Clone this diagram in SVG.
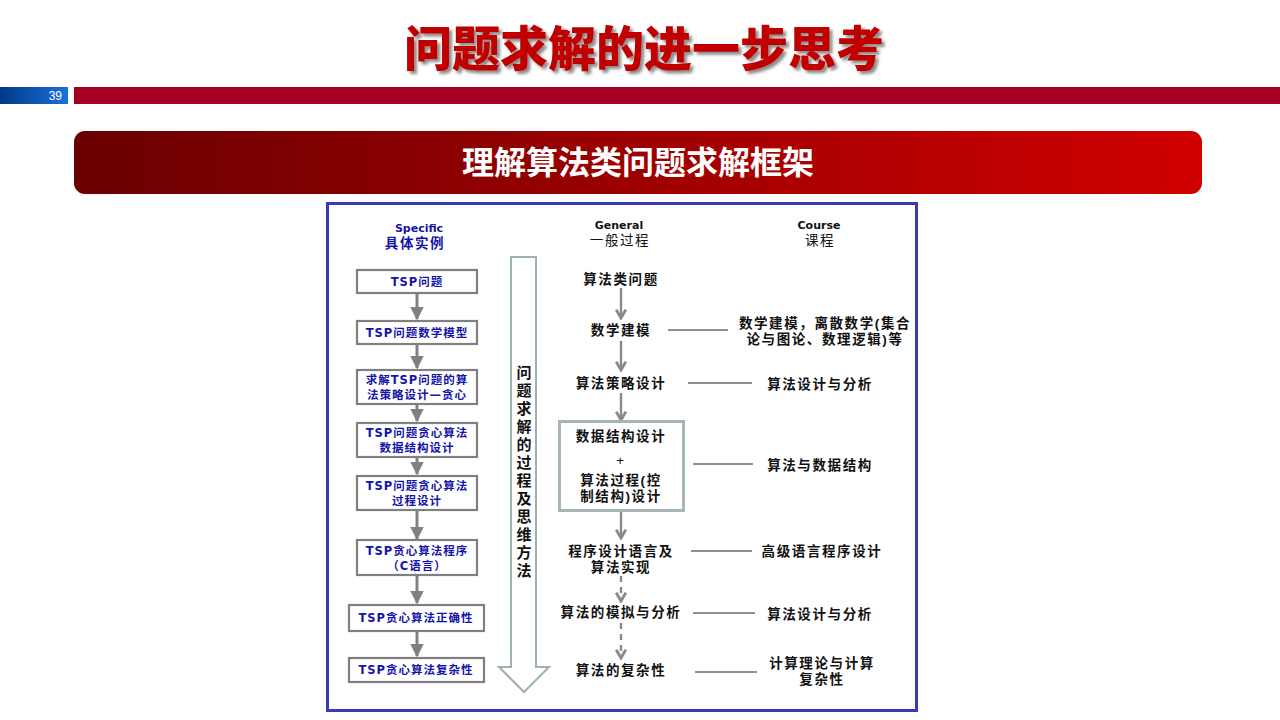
<svg xmlns="http://www.w3.org/2000/svg" width="1280" height="720" viewBox="0 0 1280 720">
<defs>
<linearGradient id="gBlue" x1="0" y1="0" x2="1" y2="0">
<stop offset="0" stop-color="#003a88"/><stop offset="1" stop-color="#1a70dc"/>
</linearGradient>
<linearGradient id="gBanner" x1="0" y1="0" x2="1" y2="0">
<stop offset="0" stop-color="#6a0000"/><stop offset="1" stop-color="#d00000"/>
</linearGradient>
<filter id="shadow" x="-10%" y="-20%" width="120%" height="150%">
<feGaussianBlur in="SourceAlpha" stdDeviation="1.5"/>
<feOffset dx="3" dy="3" result="b"/>
<feFlood flood-color="#000" flood-opacity="0.45"/>
<feComposite in2="b" operator="in"/>
<feMerge><feMergeNode/><feMergeNode in="SourceGraphic"/></feMerge>
</filter>
<marker id="triG" viewBox="0 0 10 10" markerWidth="4.5" markerHeight="4.5" refX="9" refY="5" orient="auto">
<path d="M0,0 L10,5 L0,10 Z" fill="#808080"/>
</marker>
<marker id="chev" viewBox="0 0 10 10" markerWidth="5" markerHeight="5" refX="8" refY="5" orient="auto">
<path d="M1,1 L8,5 L1,9" fill="none" stroke="#8a8a8a" stroke-width="2.4"/>
</marker>
</defs>
<style>
.title{font-family:"Noto Sans CJK SC",sans-serif;font-weight:900;font-size:48px;fill:#c00000}
.banner{font-family:"Noto Sans CJK SC",sans-serif;font-weight:bold;font-size:32px;fill:#fff}
.blue{font-family:"DejaVu Sans","Noto Sans CJK SC",sans-serif;font-weight:bold;fill:#1414a8;text-anchor:middle}
.bx{font-size:11.5px;letter-spacing:1px}
.hd{font-family:"DejaVu Sans","Noto Sans CJK SC",sans-serif;font-weight:bold;font-size:11px;text-anchor:middle}
.hc{font-family:"Liberation Sans","Noto Sans CJK SC",sans-serif;font-size:13.5px;letter-spacing:1.6px;text-anchor:middle}
.cn{font-family:"Liberation Sans","Noto Sans CJK SC",sans-serif;font-weight:bold;font-size:13.5px;letter-spacing:1.6px;fill:#111;text-anchor:middle}
.vt{font-family:"Liberation Sans","Noto Sans CJK SC",sans-serif;font-weight:bold;font-size:15px;fill:#111;text-anchor:middle}
.lbox{fill:#fff;stroke:#808080;stroke-width:2.2}
.larr{stroke:#808080;stroke-width:3;fill:none;marker-end:url(#triG)}
.marr{stroke:#8a8a8a;stroke-width:2.4;fill:none;marker-end:url(#chev)}
.mdash{stroke:#8a8a8a;stroke-width:2.4;fill:none;stroke-dasharray:6 5;marker-end:url(#chev)}
.link{stroke:#222;stroke-width:1.2}
</style>
<rect width="1280" height="720" fill="#fff"/>
<g id="header">
<text class="title" x="644" y="66" text-anchor="middle" filter="url(#shadow)">问题求解的进一步思考</text>
<rect x="0" y="87" width="68" height="17" fill="url(#gBlue)"/>
<text x="62" y="100" text-anchor="end" font-family="Liberation Sans, sans-serif" font-size="12" fill="#fff">39</text>
<rect x="74" y="87" width="1206" height="17" fill="#a50021"/>
<rect x="74" y="131" width="1128" height="63" rx="11" fill="url(#gBanner)"/>
<text class="banner" x="638" y="174" text-anchor="middle">理解算法类问题求解框架</text>
</g>
<rect x="327.5" y="203.5" width="589" height="507" fill="#fff" stroke="#3a3ab4" stroke-width="3"/>
<g id="col-heads">
<text class="hd" x="419" y="232" fill="#1414a8">Specific</text>
<text class="hc" x="415" y="248" fill="#1414a8" font-weight="bold" font-size="13" letter-spacing="1">具体实例</text>
<text class="hd" x="619" y="229" fill="#111">General</text>
<text class="hc" x="620" y="245" fill="#111">一般过程</text>
<text class="hd" x="819" y="229" fill="#111">Course</text>
<text class="hc" x="820" y="245" fill="#111">课程</text>
</g>
<g id="connectors">
<line class="larr" x1="417" y1="294" x2="417" y2="319"/>
<line class="larr" x1="417" y1="344" x2="417" y2="368"/>
<line class="larr" x1="417" y1="404" x2="417" y2="421"/>
<line class="larr" x1="417" y1="457" x2="417" y2="474"/>
<line class="larr" x1="417" y1="510" x2="417" y2="539"/>
<line class="larr" x1="417" y1="575" x2="417" y2="603"/>
<line class="larr" x1="417" y1="631" x2="417" y2="656"/>
<line class="marr" x1="621" y1="288" x2="621" y2="318"/>
<line class="marr" x1="621" y1="341" x2="621" y2="370"/>
<line class="marr" x1="621" y1="393" x2="621" y2="420"/>
<line class="marr" x1="621" y1="512" x2="621" y2="538"/>
<line class="mdash" x1="621" y1="576" x2="621" y2="601"/>
<line class="mdash" x1="621" y1="623" x2="621" y2="658"/>
<line class="link" x1="668" y1="330" x2="728" y2="330"/>
<line class="link" x1="688" y1="383" x2="752" y2="383"/>
<line class="link" x1="693" y1="464" x2="753" y2="464"/>
<line class="link" x1="691" y1="551" x2="752" y2="551"/>
<line class="link" x1="693" y1="613" x2="755" y2="613"/>
<line class="link" x1="695" y1="672" x2="757" y2="672"/>
</g>
<g id="s1"><rect class="lbox" x="357" y="270" width="120" height="23"/><text class="blue bx" x="417" y="286">TSP问题</text></g>
<g id="s2"><rect class="lbox" x="357" y="321" width="120" height="23"/><text class="blue bx" x="417" y="337">TSP问题数学模型</text></g>
<g id="s3"><rect class="lbox" x="357" y="370" width="120" height="34"/><text class="blue bx"><tspan x="417" y="384">求解TSP问题的算</tspan><tspan x="417" y="399">法策略设计—贪心</tspan></text></g>
<g id="s4"><rect class="lbox" x="357" y="423" width="120" height="34"/><text class="blue bx"><tspan x="417" y="437">TSP问题贪心算法</tspan><tspan x="417" y="452">数据结构设计</tspan></text></g>
<g id="s5"><rect class="lbox" x="357" y="476" width="120" height="34"/><text class="blue bx"><tspan x="417" y="490">TSP问题贪心算法</tspan><tspan x="417" y="505">过程设计</tspan></text></g>
<g id="s6"><rect class="lbox" x="357" y="540" width="120" height="35"/><text class="blue bx"><tspan x="417" y="555">TSP贪心算法程序</tspan><tspan x="417" y="570">（C语言）</tspan></text></g>
<g id="s7"><rect class="lbox" x="349" y="605" width="135" height="26"/><text class="blue bx" x="416" y="622">TSP贪心算法正确性</text></g>
<g id="s8"><rect class="lbox" x="349" y="658" width="135" height="24"/><text class="blue bx" x="416" y="674">TSP贪心算法复杂性</text></g>
<g id="bigarrow">
<path d="M511,257 L536,257 L536,667 L549,667 L524,692 L499,667 L511,667 Z" fill="#fff" stroke="#9fb0b0" stroke-width="2"/>
<text class="vt"><tspan x="524" y="378">问</tspan><tspan x="524" y="396">题</tspan><tspan x="524" y="414">求</tspan><tspan x="524" y="432">解</tspan><tspan x="524" y="450">的</tspan><tspan x="524" y="468">过</tspan><tspan x="524" y="486">程</tspan><tspan x="524" y="504">及</tspan><tspan x="524" y="522">思</tspan><tspan x="524" y="540">维</tspan><tspan x="524" y="558">方</tspan><tspan x="524" y="576">法</tspan></text>
</g>
<g id="g1"><text class="cn" x="621" y="284">算法类问题</text></g>
<g id="g2"><text class="cn" x="621" y="335">数学建模</text></g>
<g id="g3"><text class="cn" x="621" y="388">算法策略设计</text></g>
<g id="g4"><rect x="559.5" y="421.5" width="124" height="89" fill="#fff" stroke="#a6b6b6" stroke-width="3"/>
<text class="cn"><tspan x="621" y="441">数据结构设计</tspan><tspan x="621" y="465" font-weight="normal">+</tspan><tspan x="621" y="485">算法过程(控</tspan><tspan x="621" y="501">制结构)设计</tspan></text></g>
<g id="g5"><text class="cn"><tspan x="621" y="556">程序设计语言及</tspan><tspan x="621" y="572">算法实现</tspan></text></g>
<g id="g6"><text class="cn" x="621" y="617">算法的模拟与分析</text></g>
<g id="g7"><text class="cn" x="621" y="675">算法的复杂性</text></g>
<g id="c1"><text class="cn"><tspan x="825" y="328">数学建模，离散数学(集合</tspan><tspan x="825" y="344">论与图论、数理逻辑)等</tspan></text></g>
<g id="c2"><text class="cn" x="820" y="389">算法设计与分析</text></g>
<g id="c3"><text class="cn" x="820" y="470">算法与数据结构</text></g>
<g id="c4"><text class="cn" x="822" y="556">高级语言程序设计</text></g>
<g id="c5"><text class="cn" x="820" y="619">算法设计与分析</text></g>
<g id="c6"><text class="cn"><tspan x="822" y="668">计算理论与计算</tspan><tspan x="822" y="684">复杂性</tspan></text></g>
</svg>
